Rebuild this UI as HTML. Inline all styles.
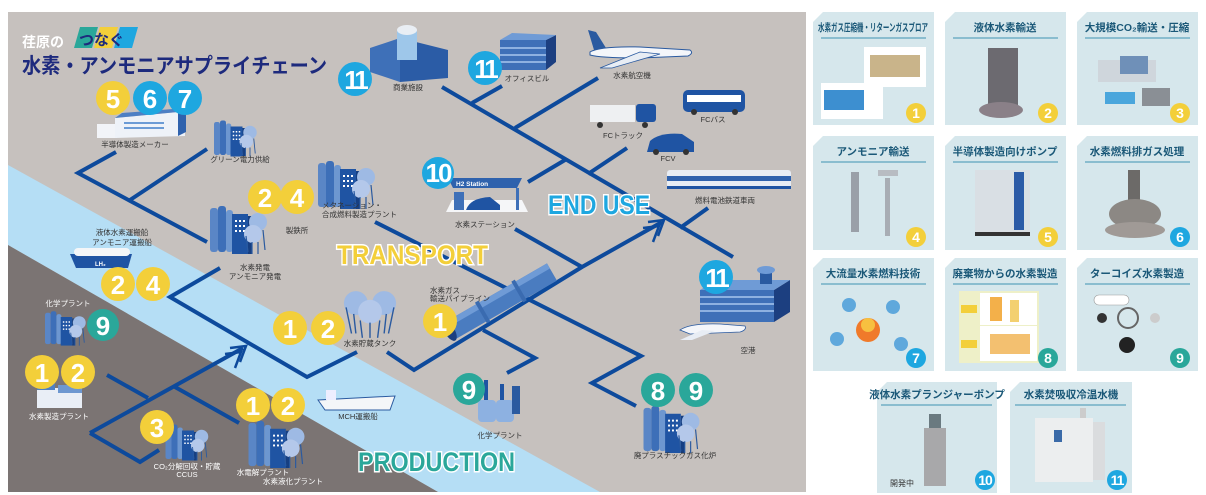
<!DOCTYPE html>
<html><head><meta charset="utf-8">
<style>
html,body{margin:0;padding:0;background:#fff;}
svg{display:block;}
text{font-family:"Liberation Sans","Noto Sans CJK JP",sans-serif;}
.lb{font-size:7.5px;fill:#333;}
.lbw{font-size:7.5px;fill:#fff;}
.bn{font-size:26px;font-weight:bold;fill:#fff;text-anchor:middle;}
.ct{font-size:10.5px;font-weight:bold;fill:#1a5878;text-anchor:middle;}
.cb{font-size:14px;font-weight:bold;fill:#fff;text-anchor:middle;}
</style></head><body>
<svg width="1206" height="495" viewBox="0 0 1206 495" xmlns="http://www.w3.org/2000/svg">
<defs>
<symbol id="plant" viewBox="0 0 60 56">
 <rect x="2" y="8" width="8" height="44" rx="3" fill="#5a86c6"/>
 <rect x="10" y="6" width="8" height="46" rx="3" fill="#3d6fb8"/>
 <rect x="18" y="10" width="7" height="42" rx="3" fill="#6d97d0"/>
 <rect x="24" y="14" width="16" height="40" fill="#1f54a3"/>
 <rect x="40" y="16" width="4" height="38" fill="#163f82"/>
 <g fill="#fff"><rect x="27" y="20" width="2" height="2"/><rect x="31" y="20" width="2" height="2"/><rect x="35" y="20" width="2" height="2"/><rect x="27" y="25" width="2" height="2"/><rect x="31" y="25" width="2" height="2"/><rect x="35" y="25" width="2" height="2"/><rect x="27" y="30" width="2" height="2"/><rect x="31" y="30" width="2" height="2"/><rect x="35" y="30" width="2" height="2"/></g>
 <circle cx="50" cy="22" r="9" fill="#9ebae4"/>
 <circle cx="45" cy="34" r="9" fill="#b4c8ea"/>
 <path d="M38 36 L40 52 M44 42 L44 54 M50 42 L50 54 M55 30 L57 50" stroke="#2a5aa0" stroke-width="1.2"/>
</symbol>
<symbol id="tank" viewBox="0 0 50 46">
 <circle cx="12" cy="12" r="11" fill="#9ebae4"/><circle cx="38" cy="12" r="11" fill="#9ebae4"/>
 <circle cx="25" cy="20" r="11" fill="#b4c8ea"/>
 <path d="M3 16 L8 40 M10 22 L12 40 M16 28 L18 44 M25 30 L25 44 M34 28 L32 44 M40 22 L38 40 M47 16 L42 40" stroke="#2a5aa0" stroke-width="1.3"/>
</symbol>
</defs>

<rect x="8" y="12" width="798" height="480" fill="#c6c1be"/>
<polygon points="8,165 600,492 438,492 8,245" fill="#b5def5"/>
<polygon points="8,245 438,492 8,492" fill="#7b7473"/>

<text x="22" y="47" font-size="14" font-weight="bold" fill="#fff">荏原の</text>
<polygon points="80,27 98,27 92,48 74,48" fill="#2aa79a"/>
<polygon points="100,27 118,27 112,48 94,48" fill="#f3cf3a"/>
<polygon points="120,27 138,27 132,48 114,48" fill="#1ea7e0"/>
<text x="79" y="45" font-size="15" font-weight="bold" fill="#1d2a7d">つなぐ</text>
<text x="22" y="73" font-size="21" font-weight="bold" fill="#1d2a7d" textLength="305" lengthAdjust="spacingAndGlyphs">水素・アンモニアサプライチェーン</text>

<g stroke="#0d4a9c" stroke-width="4" fill="none">
<polyline points="116,152 78,173 207,242"/>
<line x1="130" y1="200" x2="207" y2="149"/>
<polyline points="220,268 170,297 307,377 357,352"/>
<polyline points="387,352 414,370 582,267 662,222"/>
<line x1="515" y1="229" x2="582" y2="267"/>
<line x1="442" y1="87" x2="733" y2="257"/>
<line x1="472" y1="103" x2="502" y2="86"/>
<line x1="515" y1="128" x2="598" y2="78"/>
<line x1="528" y1="182" x2="565" y2="160"/>
<line x1="588" y1="174" x2="627" y2="148"/>
<line x1="680" y1="228" x2="708" y2="208"/>
<polyline points="375,222 641,356 592,383 636,406"/>
<polyline points="483,330 535,358 507,373"/>
<line x1="107" y1="375" x2="148" y2="398"/>
<line x1="90" y1="433" x2="243" y2="348"/>
<polyline points="90,433 140,462 159,450"/>
<line x1="175" y1="387" x2="239" y2="423"/>
</g>
<g stroke="#0d4a9c" stroke-width="2.5" fill="none">
<polyline points="648,222 664,220 658,236"/><polyline points="643,228 659,226 653,242"/>
<polyline points="230,348 246,346 240,362"/><polyline points="225,354 241,352 235,368"/>
</g>

<g font-weight="bold" font-size="27" stroke="#fff" stroke-width="3" paint-order="stroke">
<text x="548" y="214" fill="#1ea7e0" textLength="102" lengthAdjust="spacingAndGlyphs">END USE</text>
<text x="337" y="264" fill="#f3cf3a" textLength="151" lengthAdjust="spacingAndGlyphs">TRANSPORT</text>
<text x="358" y="471" fill="#2aa79a" textLength="157" lengthAdjust="spacingAndGlyphs">PRODUCTION</text>
</g>

<rect x="97" y="124" width="20" height="14" fill="#f2f4f8"/>
<polygon points="115,118 178,112 185,116 185,136 115,138" fill="#eef2f8"/>
<polygon points="178,112 186,108 186,132 178,136" fill="#2f62ad"/>
<rect x="124" y="122" width="40" height="2" fill="#6b9bd5"/><rect x="124" y="127" width="40" height="2" fill="#6b9bd5"/>
<polygon points="115,118 178,112 186,108 122,113" fill="#4d7fc4"/>
<use href="#plant" x="212" y="116" width="46" height="42"/>
<use href="#plant" x="316" y="155" width="60" height="56"/>
<use href="#plant" x="208" y="200" width="60" height="56"/>
<use href="#plant" x="40" y="307" width="50" height="40"/>
<use href="#plant" x="164" y="420" width="45" height="42"/>
<use href="#plant" x="245" y="415" width="62" height="55"/>
<use href="#plant" x="640" y="400" width="62" height="55"/>
<use href="#tank" x="342" y="290" width="56" height="50"/>
<rect x="37" y="388" width="45" height="20" fill="#e9eef6"/><rect x="37" y="380" width="18" height="10" fill="#4d7fc4"/><rect x="58" y="385" width="24" height="8" fill="#6d97d0"/>
<polygon points="370,48 400,38 400,82 370,72" fill="#3e70b8"/>
<polygon points="400,38 448,50 448,78 400,82" fill="#2b5ca6"/>
<rect x="397" y="30" width="20" height="30" fill="#9ec7ea"/><ellipse cx="407" cy="30" rx="10" ry="5" fill="#e9eef4"/>
<rect x="500" y="40" width="46" height="30" fill="#3e70b8"/><polygon points="546,40 556,35 556,62 546,70" fill="#1c3f80"/><polygon points="500,40 512,33 556,35 546,40" fill="#6f9bd6"/>
<g fill="#8db1e1"><rect x="500" y="47" width="46" height="2"/><rect x="500" y="54" width="46" height="2"/><rect x="500" y="61" width="46" height="2"/></g>
<path d="M590 52 Q600 46 640 47 L690 50 Q694 53 688 56 L640 58 Q600 58 590 55Z" fill="#f4f6fa" stroke="#2a5aa0" stroke-width="1"/>
<polygon points="640,52 600,68 612,68 660,54" fill="#e8edf4" stroke="#2a5aa0" stroke-width=".8"/>
<polygon points="594,50 588,30 596,32 606,48" fill="#2a5aa0"/>
<rect x="590" y="105" width="45" height="17" fill="#eef0f2"/><rect x="636" y="104" width="20" height="18" rx="3" fill="#1f54a3"/>
<circle cx="600" cy="125" r="3" fill="#333"/><circle cx="645" cy="125" r="3" fill="#333"/>
<rect x="683" y="90" width="62" height="22" rx="5" fill="#1f54a3"/><rect x="687" y="95" width="54" height="7" fill="#fff"/><circle cx="694" cy="112" r="3" fill="#333"/><circle cx="735" cy="112" r="3" fill="#333"/>
<path d="M647 152 L650 141 Q660 132 682 134 L694 142 L694 152Z" fill="#1f54a3"/><circle cx="656" cy="152" r="3" fill="#333"/><circle cx="686" cy="152" r="3" fill="#333"/>
<rect x="667" y="170" width="124" height="18" rx="3" fill="#e8edf4"/><rect x="667" y="176" width="124" height="5" fill="#2f62ad"/><rect x="667" y="186" width="124" height="3" fill="#1f54a3"/>
<polygon points="448,178 522,178 517,188 453,188" fill="#2f62ad"/>
<text x="456" y="186" font-size="6.5" font-weight="bold" fill="#fff">H2 Station</text>
<polygon points="446,212 528,212 522,200 452,200" fill="#f5f6f8"/>
<rect x="454" y="192" width="10" height="18" fill="#3e70b8"/><rect x="516" y="188" width="3" height="22" fill="#3e70b8"/>
<path d="M466 210 Q470 198 490 197 L500 205 L500 210Z" fill="#1f54a3"/>
<path d="M70 254 L132 254 L128 268 L76 268Z" fill="#1f54a3"/><rect x="74" y="248" width="56" height="8" rx="4" fill="#f4f6f8"/><text x="95" y="266" font-size="6" font-weight="bold" fill="#fff">LH₂</text>
<path d="M318 400 L395 396 L390 410 L325 410Z" fill="#f4f6f8" stroke="#2a5aa0" stroke-width="1"/><rect x="326" y="390" width="10" height="10" fill="#eef"/>
<g transform="rotate(-30 500 302)">
<rect x="442" y="292" width="118" height="20" fill="#4a7cc0"/>
<rect x="442" y="292" width="118" height="6" fill="#6f9bd6"/>
<ellipse cx="442" cy="302" rx="5" ry="11" fill="#1c3f80"/>
<rect x="478" y="290" width="4" height="24" fill="#3a6bb0"/><rect x="520" y="290" width="4" height="24" fill="#3a6bb0"/>
</g>
<rect x="478" y="400" width="18" height="22" rx="4" fill="#8db1e1"/><rect x="496" y="400" width="18" height="22" rx="4" fill="#8db1e1"/>
<rect x="484" y="380" width="4" height="20" fill="#1f54a3"/><rect x="500" y="384" width="4" height="16" fill="#1f54a3"/><rect x="512" y="386" width="8" height="28" fill="#2a5aa0"/>
<rect x="700" y="290" width="74" height="32" fill="#3e70b8"/><polygon points="774,290 790,280 790,312 774,322" fill="#1c3f80"/>
<polygon points="700,290 716,280 790,280 774,290" fill="#6f9bd6"/>
<g fill="#8db1e1"><rect x="700" y="296" width="74" height="2"/><rect x="700" y="303" width="74" height="2"/><rect x="700" y="310" width="74" height="2"/></g>
<rect x="760" y="270" width="12" height="14" fill="#2a5aa0"/><ellipse cx="766" cy="270" rx="9" ry="4" fill="#6f9bd6"/>
<path d="M680 330 Q690 323 720 324 L745 326 Q747 330 740 332 L690 334Z" fill="#f4f6fa" stroke="#2a5aa0" stroke-width=".8"/>
<polygon points="702,330 680,340 692,340 715,331" fill="#e8edf4"/>

<g>
<circle cx="113" cy="98" r="17" fill="#f3cf3a"/><text class="bn" x="113" y="108">5</text>
<circle cx="150" cy="98" r="17" fill="#1ea7e0"/><text class="bn" x="150" y="108">6</text>
<circle cx="185" cy="98" r="17" fill="#1ea7e0"/><text class="bn" x="185" y="108">7</text>
<circle cx="355" cy="79" r="17" fill="#1ea7e0"/><text class="bn" x="355" y="89" letter-spacing="-3">11</text>
<circle cx="485" cy="68" r="17" fill="#1ea7e0"/><text class="bn" x="485" y="78" letter-spacing="-3">11</text>
<circle cx="265" cy="197" r="17" fill="#f3cf3a"/><text class="bn" x="265" y="207">2</text>
<circle cx="297" cy="197" r="17" fill="#f3cf3a"/><text class="bn" x="297" y="207">4</text>
<circle cx="438" cy="173" r="16" fill="#1ea7e0"/><text class="bn" x="438" y="182" font-size="23" letter-spacing="-2">10</text>
<circle cx="118" cy="284" r="17" fill="#f3cf3a"/><text class="bn" x="118" y="294">2</text>
<circle cx="153" cy="284" r="17" fill="#f3cf3a"/><text class="bn" x="153" y="294">4</text>
<circle cx="103" cy="325" r="16" fill="#2aa79a"/><text class="bn" x="103" y="335">9</text>
<circle cx="290" cy="328" r="17" fill="#f3cf3a"/><text class="bn" x="290" y="338">1</text>
<circle cx="328" cy="328" r="17" fill="#f3cf3a"/><text class="bn" x="328" y="338">2</text>
<circle cx="440" cy="321" r="17" fill="#f3cf3a"/><text class="bn" x="440" y="331">1</text>
<circle cx="469" cy="389" r="16" fill="#2aa79a"/><text class="bn" x="469" y="399">9</text>
<circle cx="658" cy="390" r="17" fill="#2aa79a"/><text class="bn" x="658" y="400">8</text>
<circle cx="696" cy="390" r="17" fill="#2aa79a"/><text class="bn" x="696" y="400">9</text>
<circle cx="716" cy="277" r="17" fill="#1ea7e0"/><text class="bn" x="716" y="287" letter-spacing="-3">11</text>
<circle cx="42" cy="372" r="17" fill="#f3cf3a"/><text class="bn" x="42" y="382">1</text>
<circle cx="78" cy="372" r="17" fill="#f3cf3a"/><text class="bn" x="78" y="382">2</text>
<circle cx="157" cy="427" r="17" fill="#f3cf3a"/><text class="bn" x="157" y="437">3</text>
<circle cx="253" cy="405" r="17" fill="#f3cf3a"/><text class="bn" x="253" y="415">1</text>
<circle cx="288" cy="405" r="17" fill="#f3cf3a"/><text class="bn" x="288" y="415">2</text>
</g>

<g text-anchor="middle">
<text class="lb" x="135" y="147">半導体製造メーカー</text>
<text class="lb" x="240" y="162">グリーン電力供給</text>
<text class="lb" x="297" y="233">製鉄所</text>
<text class="lb" x="122" y="235">液体水素運搬船</text>
<text class="lb" x="122" y="245">アンモニア運搬船</text>
<text class="lb" x="255" y="270">水素発電</text>
<text class="lb" x="255" y="279">アンモニア発電</text>
<text class="lbw" x="68" y="306">化学プラント</text>
<text class="lbw" x="59" y="419">水素製造プラント</text>
<text class="lbw" x="187" y="469">CO₂分解回収・貯蔵</text>
<text class="lbw" x="187" y="477" font-size="4">CCUS</text>
<text class="lbw" x="263" y="475">水電解プラント</text>
<text class="lbw" x="293" y="484">水素液化プラント</text>
<text class="lb" x="358" y="419">MCH運搬船</text>
<text class="lb" x="370" y="346">水素貯蔵タンク</text>
<text class="lb" x="500" y="438">化学プラント</text>
<text class="lb" x="675" y="458">廃プラスチックガス化炉</text>
<text class="lb" x="748" y="353">空港</text>
<text class="lb" x="408" y="90">商業施設</text>
<text class="lb" x="527" y="81">オフィスビル</text>
<text class="lb" x="632" y="78">水素航空機</text>
<text class="lb" x="623" y="138">FCトラック</text>
<text class="lb" x="713" y="122">FCバス</text>
<text class="lb" x="668" y="161">FCV</text>
<text class="lb" x="725" y="203">燃料電池鉄道車両</text>
<text class="lb" x="485" y="227">水素ステーション</text>
</g>
<text class="lb" x="322" y="208">メタネーション・</text>
<text class="lb" x="322" y="217">合成燃料製造プラント</text>
<text class="lb" x="430" y="293">水素ガス</text>
<text class="lb" x="430" y="301">輸送パイプライン</text>

<g>
<path d="M823 12 H934 V125 H813 V22Z" fill="#d6e7ec"/>
<path d="M955 12 H1066 V125 H945 V22Z" fill="#d6e7ec"/>
<path d="M1087 12 H1198 V125 H1077 V22Z" fill="#d6e7ec"/>
<path d="M823 136 H934 V250 H813 V146Z" fill="#d6e7ec"/>
<path d="M955 136 H1066 V250 H945 V146Z" fill="#d6e7ec"/>
<path d="M1087 136 H1198 V250 H1077 V146Z" fill="#d6e7ec"/>
<path d="M823 258 H934 V371 H813 V268Z" fill="#d6e7ec"/>
<path d="M955 258 H1066 V371 H945 V268Z" fill="#d6e7ec"/>
<path d="M1087 258 H1198 V371 H1077 V268Z" fill="#d6e7ec"/>
<path d="M887 382 H997 V493 H877 V392Z" fill="#d6e7ec"/>
<path d="M1020 382 H1132 V493 H1010 V392Z" fill="#d6e7ec"/>
</g>
<g stroke="#3d93b2" stroke-width="1">
<line x1="821" y1="38" x2="926" y2="38"/><line x1="953" y1="38" x2="1058" y2="38"/><line x1="1085" y1="38" x2="1190" y2="38"/>
<line x1="821" y1="162" x2="926" y2="162"/><line x1="953" y1="162" x2="1058" y2="162"/><line x1="1085" y1="162" x2="1190" y2="162"/>
<line x1="821" y1="284" x2="926" y2="284"/><line x1="953" y1="284" x2="1058" y2="284"/><line x1="1085" y1="284" x2="1190" y2="284"/>
<line x1="881" y1="405" x2="992" y2="405"/><line x1="1015" y1="405" x2="1126" y2="405"/>
</g>
<text class="ct" x="873" y="31" font-size="9" textLength="110" lengthAdjust="spacingAndGlyphs">水素ガス圧縮機・リターンガスブロア</text>
<text class="ct" x="1005" y="31">液体水素輸送</text>
<text class="ct" x="1137" y="31">大規模CO₂輸送・圧縮</text>
<text class="ct" x="873" y="155">アンモニア輸送</text>
<text class="ct" x="1005" y="155">半導体製造向けポンプ</text>
<text class="ct" x="1137" y="155">水素燃料排ガス処理</text>
<text class="ct" x="873" y="277">大流量水素燃料技術</text>
<text class="ct" x="1005" y="277">廃棄物からの水素製造</text>
<text class="ct" x="1137" y="277">ターコイズ水素製造</text>
<text class="ct" x="937" y="398">液体水素プランジャーポンプ</text>
<text class="ct" x="1071" y="398">水素焚吸収冷温水機</text>

<rect x="864" y="47" width="62" height="40" fill="#fff"/><rect x="870" y="55" width="50" height="22" fill="#c9b48a"/>
<rect x="821" y="83" width="62" height="36" fill="#fff"/><rect x="824" y="90" width="40" height="20" fill="#3d8fd0"/>
<rect x="988" y="48" width="30" height="60" fill="#6c6a70"/><ellipse cx="1001" cy="110" rx="22" ry="8" fill="#8a8088"/>
<rect x="1098" y="60" width="58" height="22" fill="#cfd6dc"/><rect x="1120" y="56" width="28" height="18" fill="#6f90b8"/><rect x="1105" y="92" width="30" height="12" fill="#4aa6dc"/><rect x="1142" y="88" width="28" height="18" fill="#8a8f95"/>
<rect x="851" y="172" width="8" height="60" fill="#9aa0a8"/><rect x="885" y="178" width="5" height="58" fill="#a8adb4"/><rect x="878" y="170" width="20" height="6" fill="#b8bcc2"/>
<rect x="975" y="170" width="55" height="62" fill="#d9dfe4"/><rect x="1014" y="172" width="10" height="58" fill="#2c5aa6"/><rect x="975" y="232" width="55" height="4" fill="#333"/>
<rect x="1128" y="170" width="12" height="30" fill="#6c6a68"/><ellipse cx="1135" cy="214" rx="26" ry="15" fill="#8c8884"/><ellipse cx="1135" cy="230" rx="30" ry="8" fill="#a09a96"/>
<circle cx="868" cy="330" r="12" fill="#f07a2a"/><circle cx="868" cy="325" r="7" fill="#f7c040"/>
<circle cx="849" cy="305" r="7" fill="#5fa8dc"/><circle cx="893" cy="307" r="7" fill="#5fa8dc"/><circle cx="837" cy="339" r="7" fill="#5fa8dc"/><circle cx="901" cy="344" r="7" fill="#5fa8dc"/>
<rect x="959" y="291" width="80" height="72" fill="#eef0c8"/><rect x="980" y="293" width="57" height="32" fill="#fff"/><rect x="980" y="326" width="57" height="35" fill="#fff"/>
<rect x="990" y="297" width="12" height="24" fill="#f3b04a"/><rect x="1010" y="300" width="9" height="22" fill="#f3d070"/><rect x="990" y="334" width="40" height="20" fill="#f3c070"/>
<rect x="961" y="305" width="16" height="8" fill="#f3cf3a"/><rect x="961" y="340" width="16" height="8" fill="#f3cf3a"/>
<rect x="1094" y="295" width="35" height="10" rx="5" fill="#fff" stroke="#999" stroke-width=".6"/><circle cx="1128" cy="318" r="10" fill="none" stroke="#666" stroke-width="2"/><circle cx="1127" cy="345" r="8" fill="#222"/><circle cx="1102" cy="318" r="5" fill="#333"/><circle cx="1155" cy="318" r="5" fill="#ccc"/>
<rect x="929" y="414" width="12" height="16" fill="#6a7a80"/><rect x="924" y="428" width="22" height="58" fill="#a8a8aa"/>
<text x="890" y="486" font-size="8" fill="#333">開発中</text>
<rect x="1035" y="418" width="58" height="64" fill="#eceeef"/><rect x="1093" y="422" width="12" height="58" fill="#dadcde"/><rect x="1054" y="430" width="8" height="12" fill="#3a6aa8"/><rect x="1080" y="408" width="6" height="10" fill="#ccc"/>
<g>
<circle cx="916" cy="113" r="10" fill="#f3cf3a"/><text class="cb" x="916" y="118">1</text>
<circle cx="1048" cy="113" r="10" fill="#f3cf3a"/><text class="cb" x="1048" y="118">2</text>
<circle cx="1180" cy="113" r="10" fill="#f3cf3a"/><text class="cb" x="1180" y="118">3</text>
<circle cx="916" cy="237" r="10" fill="#f3cf3a"/><text class="cb" x="916" y="242">4</text>
<circle cx="1048" cy="237" r="10" fill="#f3cf3a"/><text class="cb" x="1048" y="242">5</text>
<circle cx="1180" cy="237" r="10" fill="#1ea7e0"/><text class="cb" x="1180" y="242">6</text>
<circle cx="916" cy="358" r="10" fill="#1ea7e0"/><text class="cb" x="916" y="363">7</text>
<circle cx="1048" cy="358" r="10" fill="#2aa79a"/><text class="cb" x="1048" y="363">8</text>
<circle cx="1180" cy="358" r="10" fill="#2aa79a"/><text class="cb" x="1180" y="363">9</text>
<circle cx="985" cy="480" r="10" fill="#1ea7e0"/><text class="cb" x="985" y="485" font-size="12" letter-spacing="-1">10</text>
<circle cx="1117" cy="480" r="10" fill="#1ea7e0"/><text class="cb" x="1117" y="485" font-size="12" letter-spacing="-1">11</text>
</g>
</svg>
</body></html>
